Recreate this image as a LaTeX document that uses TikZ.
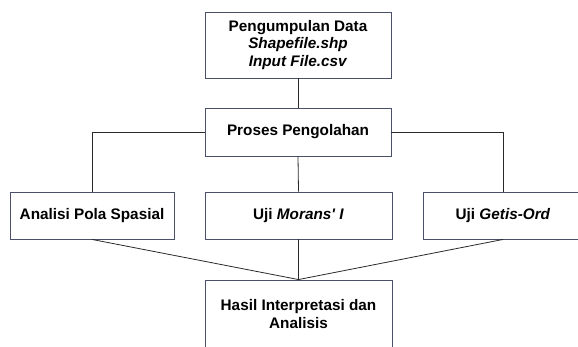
\documentclass[tikz,border=0pt]{standalone}
\usepackage{fontspec}
\setmainfont{Liberation Sans}
\definecolor{boxborder}{HTML}{4A5068}
\definecolor{linecol}{HTML}{2A2A2A}
\begin{document}
\begin{tikzpicture}[x=1pt,y=-1pt,
  box/.style={draw=boxborder,line width=0.9pt,fill=white,inner sep=0pt,align=center,
    font=\fontsize{15.3}{17.3}\selectfont\bfseries},
  conn/.style={draw=linecol,line width=0.8pt}]
\useasboundingbox (0,0) rectangle (578,347);
\clip (0,0) rectangle (578,347);
\node[box,minimum width=186pt,minimum height=66pt] (top) at (298,45)
  {Pengumpulan Data\\\textit{Shapefile.shp}\\\textit{Input File.csv}};
\node[box,minimum width=186pt,minimum height=48pt] (pro) at (298,132) {Proses Pengolahan};
\node[box,minimum width=164pt,minimum height=47pt] (ana) at (92,215.5) {Analisi Pola Spasial};
\node[box,minimum width=187pt,minimum height=47pt] (mor) at (298.5,215.5) {Uji \textit{Morans\textquotesingle\ I}};
\node[box,minimum width=160pt,minimum height=47pt] (get) at (503,215.5) {Uji \textit{Getis-Ord}};
\node[box,minimum width=187pt,minimum height=68pt] (has) at (298.5,314) {Hasil Interpretasi dan\\Analisis};
\draw[conn] (top.south) -- (pro.north);
\draw[conn] (pro.west) -| (ana.north);
\draw[conn] (pro.east) -| (get.north);
\draw[conn] (pro.south) -- (mor.north);
\draw[conn] (ana.south) -- (has.north);
\draw[conn] (mor.south) -- (has.north);
\draw[conn] (get.south) -- (has.north);
\end{tikzpicture}
\end{document}
